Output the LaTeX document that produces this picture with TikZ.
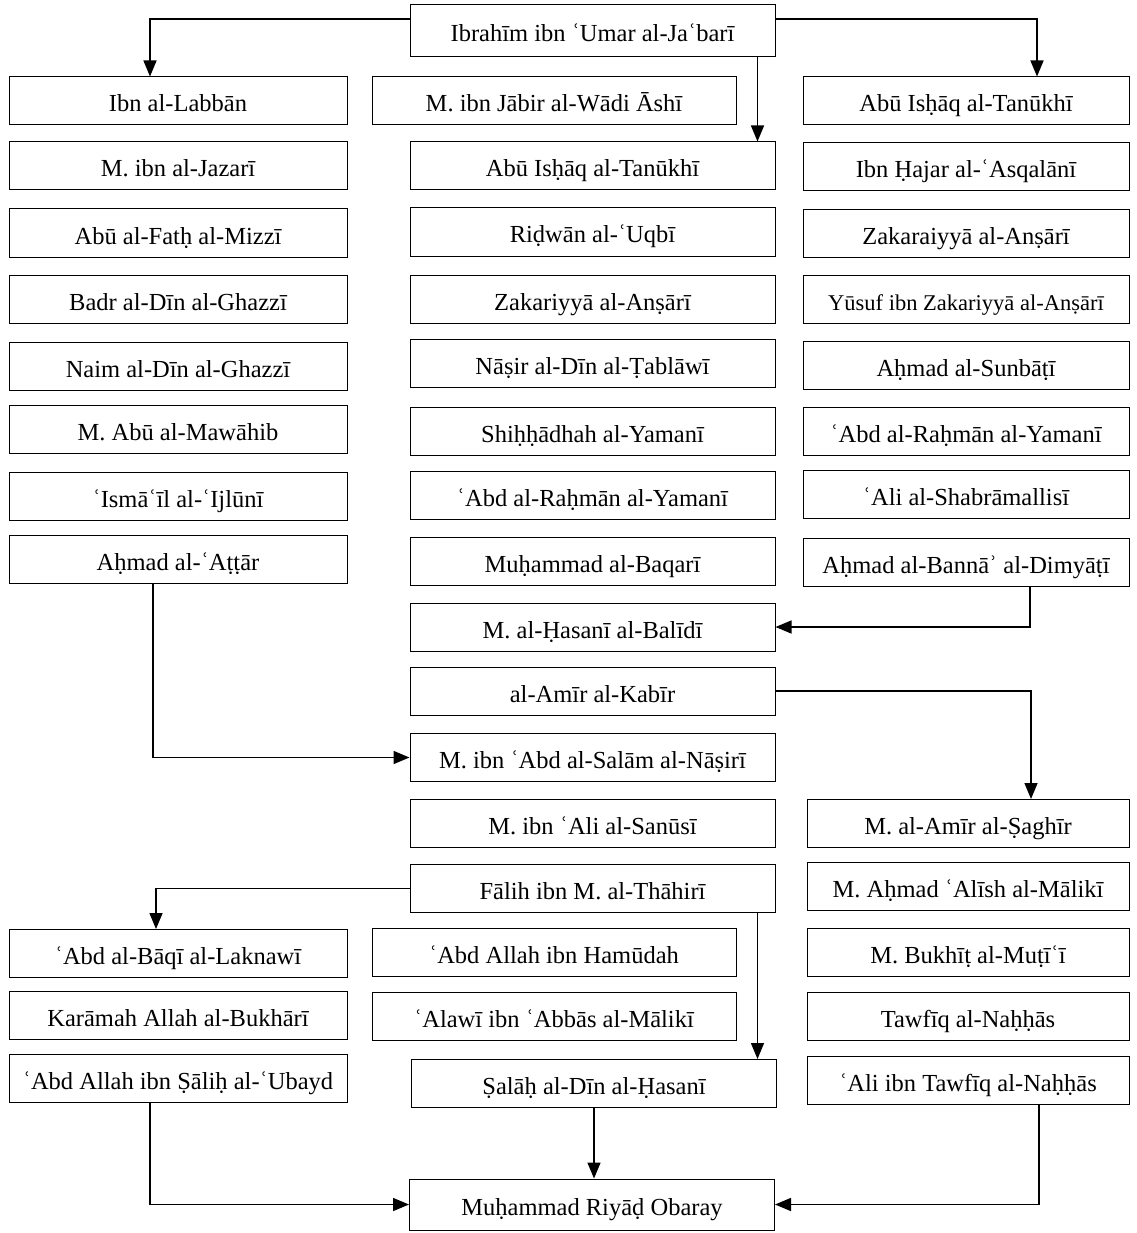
\documentclass[tikz,border=0pt]{standalone}
\usepackage{fontspec}
\setmainfont{Liberation Serif}
\usetikzlibrary{arrows.meta}

\tikzset{
  chain/.style={draw, line width=1pt, minimum height=48pt, inner sep=0pt, text height=22pt, text depth=0pt, font=\fontsize{24.5}{28}\selectfont},
  lcol/.style={chain, minimum width=338pt},
  ncol/.style={chain, minimum width=364pt},
  mcol/.style={chain, minimum width=365pt},
  rcol/.style={chain, minimum width=326pt},
  isnad/.style={line width=1.5pt, -{Triangle[length=16pt,width=13pt]}}
}

\begin{document}
\begin{tikzpicture}[x=1pt, y=-1pt]
	\useasboundingbox (0,0) rectangle (1136,1233);
	\node[mcol, minimum height=52pt] (top) at (592.5,31) {Ibrahīm ibn ʿUmar al-Jaʿbarī};
	% left column
	\node[lcol] (L1) at (178,101) {Ibn al-Labbān};
	\node[lcol] (L2) at (178,166) {M. ibn al-Jazarī};
	\node[lcol] (L3) at (178,233) {Abū al-Fatḥ al-Mizzī};
	\node[lcol] (L4) at (178,299) {Badr al-Dīn al-Ghazzī};
	\node[lcol] (L5) at (178,366) {Naim al-Dīn al-Ghazzī};
	\node[lcol] (L6) at (178,429) {M. Abū al-Mawāhib};
	\node[lcol] (L7) at (178,496) {ʿIsmāʿīl al-ʿIjlūnī};
	\node[lcol] (L8) at (178,559) {Aḥmad al-ʿAṭṭār};
	\node[lcol] (L9) at (178,953.5) {ʿAbd al-Bāqī al-Laknawī};
	\node[lcol] (L10) at (178,1015.5) {Karāmah Allah al-Bukhārī};
	\node[lcol] (L11) at (178,1078.5) {ʿAbd Allah ibn Ṣāliḥ al-ʿUbayd};
	% narrow middle
	\node[ncol] (N1) at (554,101) {M. ibn Jābir al-Wādi Āshī};
	\node[ncol] (N2) at (554,952.5) {ʿAbd Allah ibn Hamūdah};
	\node[ncol] (N3) at (554,1016.5) {ʿAlawī ibn ʿAbbās al-Mālikī};
	% middle column
	\node[mcol] (M1) at (592.5,166) {Abū Isḥāq al-Tanūkhī};
	\node[mcol] (M2) at (592.5,232) {Riḍwān al-ʿUqbī};
	\node[mcol] (M3) at (592.5,299.5) {Zakariyyā al-Anṣārī};
	\node[mcol] (M4) at (592.5,363.5) {Nāṣir al-Dīn al-Ṭablāwī};
	\node[mcol] (M5) at (592.5,431) {Shiḥḥādhah al-Yamanī};
	\node[mcol] (M6) at (592.5,495) {ʿAbd al-Raḥmān al-Yamanī};
	\node[mcol] (M7) at (592.5,561) {Muḥammad al-Baqarī};
	\node[mcol] (M8) at (592.5,627) {M. al-Ḥasanī al-Balīdī};
	\node[mcol] (M9) at (592.5,691) {al-Amīr al-Kabīr};
	\node[mcol] (M10) at (592.5,757.5) {M. ibn ʿAbd al-Salām al-Nāṣirī};
	\node[mcol] (M11) at (592.5,823) {M. ibn ʿAli al-Sanūsī};
	\node[mcol] (M12) at (592.5,888.5) {Fālih ibn M. al-Thāhirī};
	\node[mcol] (M13) at (594,1083.5) {Ṣalāḥ al-Dīn al-Ḥasanī};
	\node[mcol, minimum height=51pt] (M14) at (592,1204.5) {Muḥammad Riyāḍ Obaray};
	% right column
	\node[rcol] (R1) at (966,101) {Abū Isḥāq al-Tanūkhī};
	\node[rcol] (R2) at (966,166.5) {Ibn Ḥajar al-ʿAsqalānī};
	\node[rcol] (R3) at (966,233.5) {Zakaraiyyā al-Anṣārī};
	\node[rcol] (R4) at (966,299) {\fontsize{22.5}{26}\selectfont Yūsuf ibn Zakariyyā al-Anṣārī};
	\node[rcol] (R5) at (966,365) {Aḥmad al-Sunbāṭī};
	\node[rcol] (R6) at (966,431) {ʿAbd al-Raḥmān al-Yamanī};
	\node[rcol] (R7) at (966,494) {ʿAli al-Shabrāmallisī};
	\node[rcol] (R8) at (966,562) {Aḥmad al-Bannāʾ al-Dimyāṭī};
	\node[rcol, minimum width=322pt] (R9) at (968,823.5) {M. al-Amīr al-Ṣaghīr};
	\node[rcol, minimum width=322pt] (R10) at (968,886) {M. Aḥmad ʿAlīsh al-Mālikī};
	\node[rcol, minimum width=322pt] (R11) at (968,952) {M. Bukhīṭ al-Muṭīʿī};
	\node[rcol, minimum width=322pt] (R12) at (968,1016) {Tawfīq al-Naḥḥās};
	\node[rcol, minimum width=322pt] (R13) at (968,1080) {ʿAli ibn Tawfīq al-Naḥḥās};
	% connectors
	\draw[isnad] ([yshift=12pt]top.west) -| ([xshift=-28pt]L1.north);
	\draw[isnad] ([yshift=12pt]top.east) -| ([xshift=71pt]R1.north);
	\draw[isnad] ([xshift=165pt]top.south) -- ([xshift=165pt]M1.north);
	\draw[isnad] ([xshift=64pt]R8.south) |- (M8.east);
	\draw[isnad] (M9.east) -| ([xshift=63pt]R9.north);
	\draw[isnad] ([xshift=-25pt]L8.south) |- (M10.west);
	\draw[isnad] (M12.west) -| ([xshift=-22pt]L9.north);
	\draw[isnad] ([xshift=165pt]M12.south) -- ([xshift=165pt]M12.south |- M13.north);
	\draw[isnad] (M13.south) -- (M13.south |- M14.north);
	\draw[isnad] ([xshift=-28pt]L11.south) |- (M14.west);
	\draw[isnad] ([xshift=71pt]R13.south) |- (M14.east);
\end{tikzpicture}
\end{document}
